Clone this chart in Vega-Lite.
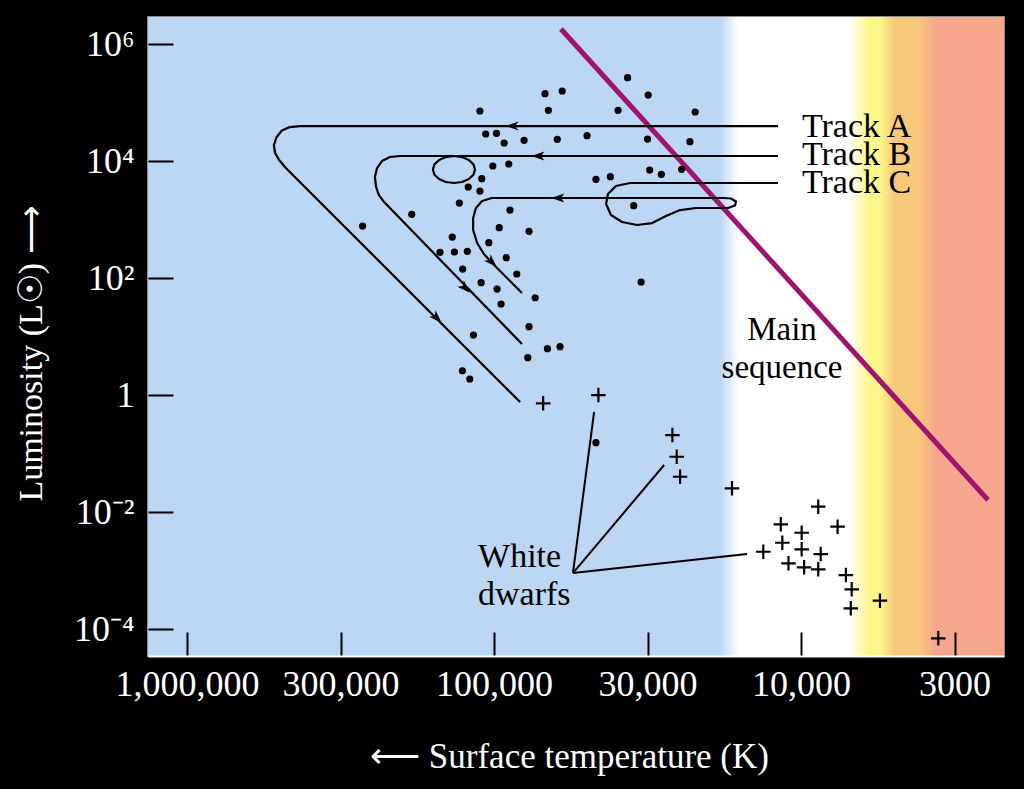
{
  "$schema": "https://vega.github.io/schema/vega-lite/v6.json",
  "width": 856,
  "height": 639,
  "autosize": {"type": "none"},
  "padding": {"left": 148, "top": 17, "right": 20, "bottom": 133},
  "background": "black",
  "config": {"view": {"stroke": "#8c8c8c", "strokeWidth": 2}, "font": "Liberation Serif"},
  "datasets": {
    "bg": [{"logT": 6.127, "logT2": 3.339, "logL": 6.467, "logL2": -4.456}],
    "mainseq": [{"logT": 4.782, "logL": 6.262, "logT2": 3.391, "logL2": -1.79}],
    "tracks": [
      {"track": "A", "i": 0, "logT": 4.075, "logL": 4.603},
      {"track": "A", "i": 1, "logT": 5.632, "logL": 4.603},
      {"track": "A", "i": 2, "logT": 5.665, "logL": 4.586},
      {"track": "A", "i": 3, "logT": 5.691, "logL": 4.526},
      {"track": "A", "i": 4, "logT": 5.708, "logL": 4.415},
      {"track": "A", "i": 5, "logT": 5.717, "logL": 4.279},
      {"track": "A", "i": 6, "logT": 5.713, "logL": 4.142},
      {"track": "A", "i": 7, "logT": 5.7, "logL": 4.022},
      {"track": "A", "i": 8, "logT": 5.678, "logL": 3.885},
      {"track": "A", "i": 9, "logT": 4.915, "logL": -0.115},
      {"track": "B", "i": 0, "logT": 4.075, "logL": 4.091},
      {"track": "B", "i": 1, "logT": 5.13, "logL": 4.091},
      {"track": "B", "i": 2, "logT": 5.157, "logL": 4.073},
      {"track": "B", "i": 3, "logT": 5.179, "logL": 4.023},
      {"track": "B", "i": 4, "logT": 5.194, "logL": 3.948},
      {"track": "B", "i": 5, "logT": 5.199, "logL": 3.86},
      {"track": "B", "i": 6, "logT": 5.194, "logL": 3.771},
      {"track": "B", "i": 7, "logT": 5.179, "logL": 3.697},
      {"track": "B", "i": 8, "logT": 5.157, "logL": 3.647},
      {"track": "B", "i": 9, "logT": 5.13, "logL": 3.629},
      {"track": "B", "i": 10, "logT": 5.104, "logL": 3.647},
      {"track": "B", "i": 11, "logT": 5.082, "logL": 3.697},
      {"track": "B", "i": 12, "logT": 5.067, "logL": 3.771},
      {"track": "B", "i": 13, "logT": 5.062, "logL": 3.86},
      {"track": "B", "i": 14, "logT": 5.067, "logL": 3.948},
      {"track": "B", "i": 15, "logT": 5.082, "logL": 4.023},
      {"track": "B", "i": 16, "logT": 5.104, "logL": 4.073},
      {"track": "B", "i": 17, "logT": 5.13, "logL": 4.091},
      {"track": "B", "i": 18, "logT": 5.306, "logL": 4.091},
      {"track": "B", "i": 19, "logT": 5.339, "logL": 4.074},
      {"track": "B", "i": 20, "logT": 5.365, "logL": 4.005},
      {"track": "B", "i": 21, "logT": 5.381, "logL": 3.885},
      {"track": "B", "i": 22, "logT": 5.388, "logL": 3.732},
      {"track": "B", "i": 23, "logT": 5.384, "logL": 3.561},
      {"track": "B", "i": 24, "logT": 5.375, "logL": 3.424},
      {"track": "B", "i": 25, "logT": 5.358, "logL": 3.304},
      {"track": "B", "i": 26, "logT": 4.909, "logL": 0.877},
      {"track": "C", "i": 0, "logT": 4.075, "logL": 3.629},
      {"track": "C", "i": 1, "logT": 4.557, "logL": 3.629},
      {"track": "C", "i": 2, "logT": 4.603, "logL": 3.578},
      {"track": "C", "i": 3, "logT": 4.629, "logL": 3.441},
      {"track": "C", "i": 4, "logT": 4.635, "logL": 3.27},
      {"track": "C", "i": 5, "logT": 4.619, "logL": 3.082},
      {"track": "C", "i": 6, "logT": 4.583, "logL": 2.962},
      {"track": "C", "i": 7, "logT": 4.534, "logL": 2.911},
      {"track": "C", "i": 8, "logT": 4.485, "logL": 2.945},
      {"track": "C", "i": 9, "logT": 4.44, "logL": 3.065},
      {"track": "C", "i": 10, "logT": 4.394, "logL": 3.167},
      {"track": "C", "i": 11, "logT": 4.342, "logL": 3.202},
      {"track": "C", "i": 12, "logT": 4.238, "logL": 3.202},
      {"track": "C", "i": 13, "logT": 4.215, "logL": 3.244},
      {"track": "C", "i": 14, "logT": 4.212, "logL": 3.313},
      {"track": "C", "i": 15, "logT": 4.228, "logL": 3.364},
      {"track": "C", "i": 16, "logT": 4.251, "logL": 3.373},
      {"track": "C", "i": 17, "logT": 5.007, "logL": 3.373},
      {"track": "C", "i": 18, "logT": 5.039, "logL": 3.321},
      {"track": "C", "i": 19, "logT": 5.059, "logL": 3.202},
      {"track": "C", "i": 20, "logT": 5.068, "logL": 3.031},
      {"track": "C", "i": 21, "logT": 5.068, "logL": 2.826},
      {"track": "C", "i": 22, "logT": 5.055, "logL": 2.603},
      {"track": "C", "i": 23, "logT": 5.033, "logL": 2.415},
      {"track": "C", "i": 24, "logT": 5.003, "logL": 2.244},
      {"track": "C", "i": 25, "logT": 4.909, "logL": 1.749}
    ],
    "arrows": [
      {"track": "A", "dir": "left", "logT": 4.941, "logL": 4.603},
      {"track": "B", "dir": "left", "logT": 4.857, "logL": 4.091},
      {"track": "C", "dir": "left", "logT": 4.792, "logL": 3.373},
      {"track": "A", "dir": "down", "logT": 5.186, "logL": 1.321},
      {"track": "B", "dir": "down", "logT": 5.094, "logL": 1.834},
      {"track": "C", "dir": "down", "logT": 5.007, "logL": 2.278}
    ],
    "stars": [
      {"kind": "star", "logT": 5.046, "logL": 4.86},
      {"kind": "star", "logT": 5.027, "logL": 4.467},
      {"kind": "star", "logT": 4.992, "logL": 4.479},
      {"kind": "star", "logT": 5.004, "logL": 3.92},
      {"kind": "star", "logT": 5.04, "logL": 3.703},
      {"kind": "star", "logT": 5.084, "logL": 3.561},
      {"kind": "star", "logT": 5.046, "logL": 3.492},
      {"kind": "star", "logT": 5.113, "logL": 3.287},
      {"kind": "star", "logT": 5.268, "logL": 3.094},
      {"kind": "star", "logT": 5.428, "logL": 2.894},
      {"kind": "star", "logT": 5.136, "logL": 2.706},
      {"kind": "star", "logT": 4.565, "logL": 5.429},
      {"kind": "star", "logT": 4.834, "logL": 5.156},
      {"kind": "star", "logT": 4.778, "logL": 5.202},
      {"kind": "star", "logT": 4.498, "logL": 5.133},
      {"kind": "star", "logT": 4.823, "logL": 4.872},
      {"kind": "star", "logT": 4.596, "logL": 4.872},
      {"kind": "star", "logT": 4.345, "logL": 4.843},
      {"kind": "star", "logT": 4.967, "logL": 4.313},
      {"kind": "star", "logT": 4.902, "logL": 4.359},
      {"kind": "star", "logT": 4.794, "logL": 4.376},
      {"kind": "star", "logT": 4.697, "logL": 4.438},
      {"kind": "star", "logT": 4.5, "logL": 4.381},
      {"kind": "star", "logT": 4.362, "logL": 4.335},
      {"kind": "star", "logT": 4.952, "logL": 3.954},
      {"kind": "star", "logT": 4.493, "logL": 3.851},
      {"kind": "star", "logT": 4.455, "logL": 3.778},
      {"kind": "star", "logT": 4.389, "logL": 3.863},
      {"kind": "star", "logT": 4.668, "logL": 3.692},
      {"kind": "star", "logT": 4.621, "logL": 3.737},
      {"kind": "star", "logT": 4.545, "logL": 3.241},
      {"kind": "star", "logT": 4.948, "logL": 3.167},
      {"kind": "star", "logT": 4.983, "logL": 2.865},
      {"kind": "star", "logT": 4.886, "logL": 2.803},
      {"kind": "star", "logT": 5.017, "logL": 2.609},
      {"kind": "star", "logT": 5.176, "logL": 2.444},
      {"kind": "star", "logT": 5.129, "logL": 2.45},
      {"kind": "star", "logT": 5.087, "logL": 2.462},
      {"kind": "star", "logT": 4.96, "logL": 2.352},
      {"kind": "star", "logT": 5.102, "logL": 2.159},
      {"kind": "star", "logT": 4.926, "logL": 2.074},
      {"kind": "star", "logT": 5.042, "logL": 1.925},
      {"kind": "star", "logT": 4.99, "logL": 1.817},
      {"kind": "star", "logT": 4.866, "logL": 1.668},
      {"kind": "star", "logT": 4.977, "logL": 1.561},
      {"kind": "star", "logT": 4.886, "logL": 1.173},
      {"kind": "star", "logT": 5.067, "logL": 1.031},
      {"kind": "star", "logT": 4.826, "logL": 0.797},
      {"kind": "star", "logT": 4.785, "logL": 0.831},
      {"kind": "star", "logT": 4.89, "logL": 0.643},
      {"kind": "star", "logT": 5.103, "logL": 0.42},
      {"kind": "star", "logT": 5.079, "logL": 0.279},
      {"kind": "star", "logT": 4.521, "logL": 1.937},
      {"kind": "star", "logT": 4.668, "logL": -0.81},
      {"kind": "wd", "logT": 4.84, "logL": -0.137},
      {"kind": "wd", "logT": 4.66, "logL": 0.005},
      {"kind": "wd", "logT": 4.419, "logL": -0.679},
      {"kind": "wd", "logT": 4.405, "logL": -1.05},
      {"kind": "wd", "logT": 4.394, "logL": -1.392},
      {"kind": "wd", "logT": 4.225, "logL": -1.59},
      {"kind": "wd", "logT": 3.944, "logL": -1.904},
      {"kind": "wd", "logT": 4.066, "logL": -2.205},
      {"kind": "wd", "logT": 3.998, "logL": -2.349},
      {"kind": "wd", "logT": 3.881, "logL": -2.246},
      {"kind": "wd", "logT": 4.061, "logL": -2.52},
      {"kind": "wd", "logT": 3.998, "logL": -2.633},
      {"kind": "wd", "logT": 4.123, "logL": -2.674},
      {"kind": "wd", "logT": 3.936, "logL": -2.713},
      {"kind": "wd", "logT": 4.041, "logL": -2.872},
      {"kind": "wd", "logT": 3.99, "logL": -2.94},
      {"kind": "wd", "logT": 3.944, "logL": -2.975},
      {"kind": "wd", "logT": 3.854, "logL": -3.072},
      {"kind": "wd", "logT": 3.835, "logL": -3.316},
      {"kind": "wd", "logT": 3.743, "logL": -3.511},
      {"kind": "wd", "logT": 3.838, "logL": -3.641},
      {"kind": "wd", "logT": 3.553, "logL": -4.154}
    ],
    "pointers": [
      {"logT": 4.743, "logL": -3.038, "logT2": 4.674, "logL2": -0.285},
      {"logT": 4.743, "logL": -3.038, "logT2": 4.446, "logL2": -1.191},
      {"logT": 4.743, "logL": -3.038, "logT2": 4.176, "logL2": -2.713}
    ],
    "trackLabels": [
      {"text": "Track A", "logT": 3.997, "logL": 4.421},
      {"text": "Track B", "logT": 3.997, "logL": 3.937},
      {"text": "Track C", "logT": 3.997, "logL": 3.453}
    ],
    "leftLabels": [
      {"text": "White", "logT": 5.052, "logL": -2.935},
      {"text": "dwarfs", "logT": 5.052, "logL": -3.585}
    ],
    "centerLabels": [
      {"text": "Main", "logT": 4.062, "logL": 0.945},
      {"text": "sequence", "logT": 4.062, "logL": 0.296}
    ]
  },
  "encoding": {
    "x": {
      "field": "logT",
      "type": "quantitative",
      "scale": {"domain": [6.127, 3.339], "nice": false, "zero": false},
      "axis": {
        "title": "⟵  Surface temperature (K)",
        "values": [6, 5.5, 5, 4.5, 4, 3.5],
        "labelExpr": "datum.value == 6 ? '1,000,000' : datum.value == 5.5 ? '300,000' : datum.value == 5 ? '100,000' : datum.value == 4.5 ? '30,000' : datum.value == 4 ? '10,000' : '3000'",
        "grid": false,
        "zindex": 1,
        "domainColor": "white",
        "domainWidth": 2,
        "tickColor": "black",
        "tickWidth": 2,
        "tickSize": -24,
        "labelColor": "white",
        "labelFont": "Liberation Serif",
        "labelFontSize": 36,
        "labelPadding": 35,
        "labelFlush": false,
        "labelOverlap": false,
        "labelBound": false,
        "titleColor": "white",
        "titleFont": "Liberation Serif",
        "titleFontSize": 35,
        "titleFontWeight": "normal",
        "titleX": 421,
        "titleY": 111,
        "titleAlign": "center",
        "titleBaseline": "alphabetic"
      }
    },
    "y": {
      "field": "logL",
      "type": "quantitative",
      "scale": {"domain": [-4.456, 6.467], "nice": false, "zero": false},
      "axis": {
        "title": "Luminosity (L☉)  ⟶",
        "values": [6, 4, 2, 0, -2, -4],
        "labelExpr": "datum.value == 6 ? '10⁶' : datum.value == 4 ? '10⁴' : datum.value == 2 ? '10²' : datum.value == 0 ? '1' : datum.value == -2 ? '10⁻²' : '10⁻⁴'",
        "grid": false,
        "zindex": 1,
        "domain": false,
        "tickColor": "black",
        "tickWidth": 2,
        "tickSize": -25,
        "labelColor": "white",
        "labelFont": "Liberation Serif",
        "labelFontSize": 36,
        "labelPadding": 39,
        "labelFlush": false,
        "labelOverlap": false,
        "labelBound": false,
        "titleColor": "white",
        "titleFont": "Liberation Serif",
        "titleFontSize": 34,
        "titleFontWeight": "normal",
        "titleAngle": -90,
        "titleX": -117,
        "titleY": 336,
        "titleAlign": "center",
        "titleBaseline": "middle"
      }
    }
  },
  "layer": [
    {
      "data": {"name": "bg"},
      "mark": {
        "type": "rect",
        "fill": {
          "x1": 0, "y1": 0, "x2": 1, "y2": 0,
          "gradient": "linear",
          "stops": [
            {"offset": 0, "color": "#bbd7f3"},
            {"offset": 0.668, "color": "#bbd7f3"},
            {"offset": 0.69, "color": "#ffffff"},
            {"offset": 0.818, "color": "#ffffff"},
            {"offset": 0.843, "color": "#fcf68a"},
            {"offset": 0.855, "color": "#fcf68a"},
            {"offset": 0.872, "color": "#f9c97b"},
            {"offset": 0.9, "color": "#f9c97b"},
            {"offset": 0.92, "color": "#f5a68d"},
            {"offset": 1, "color": "#f5a68d"}
          ]
        }
      },
      "encoding": {
        "x2": {"field": "logT2"},
        "y2": {"field": "logL2"}
      }
    },
    {
      "data": {"name": "mainseq"},
      "mark": {"type": "rule", "color": "#9e1470", "strokeWidth": 5},
      "encoding": {
        "x2": {"field": "logT2"},
        "y2": {"field": "logL2"}
      }
    },
    {
      "data": {"name": "tracks"},
      "mark": {"type": "line", "color": "black", "strokeWidth": 2.2, "strokeJoin": "round"},
      "encoding": {
        "detail": {"field": "track", "type": "nominal"},
        "order": {"field": "i", "type": "quantitative"}
      }
    },
    {
      "data": {"name": "arrows"},
      "transform": [{"filter": "datum.dir == 'left'"}],
      "mark": {"type": "point", "shape": "M-1,0L1,-0.7L0.45,0L1,0.7Z", "filled": true, "color": "black", "size": 169, "opacity": 1, "angle": 0}
    },
    {
      "data": {"name": "arrows"},
      "transform": [{"filter": "datum.dir == 'down'"}],
      "mark": {"type": "point", "shape": "M-1,0L1,-0.7L0.45,0L1,0.7Z", "filled": true, "color": "black", "size": 169, "opacity": 1, "angle": 225}
    },
    {
      "data": {"name": "pointers"},
      "mark": {"type": "rule", "color": "black", "strokeWidth": 2},
      "encoding": {
        "x2": {"field": "logT2"},
        "y2": {"field": "logL2"}
      }
    },
    {
      "data": {"name": "stars"},
      "transform": [{"filter": "datum.kind == 'star'"}],
      "mark": {"type": "point", "shape": "circle", "filled": true, "color": "black", "size": 52, "opacity": 1}
    },
    {
      "data": {"name": "stars"},
      "transform": [{"filter": "datum.kind == 'wd'"}],
      "mark": {"type": "point", "shape": "M-1,0L1,0M0,-1L0,1", "filled": false, "color": "black", "size": 210, "strokeWidth": 2.2, "opacity": 1}
    },
    {
      "data": {"name": "trackLabels"},
      "mark": {"type": "text", "align": "left", "baseline": "alphabetic", "font": "Liberation Serif", "fontSize": 34, "color": "black"},
      "encoding": {"text": {"field": "text"}}
    },
    {
      "data": {"name": "leftLabels"},
      "mark": {"type": "text", "align": "left", "baseline": "alphabetic", "font": "Liberation Serif", "fontSize": 34, "color": "black"},
      "encoding": {"text": {"field": "text"}}
    },
    {
      "data": {"name": "centerLabels"},
      "mark": {"type": "text", "align": "center", "baseline": "alphabetic", "font": "Liberation Serif", "fontSize": 33, "color": "black"},
      "encoding": {"text": {"field": "text"}}
    }
  ]
}
